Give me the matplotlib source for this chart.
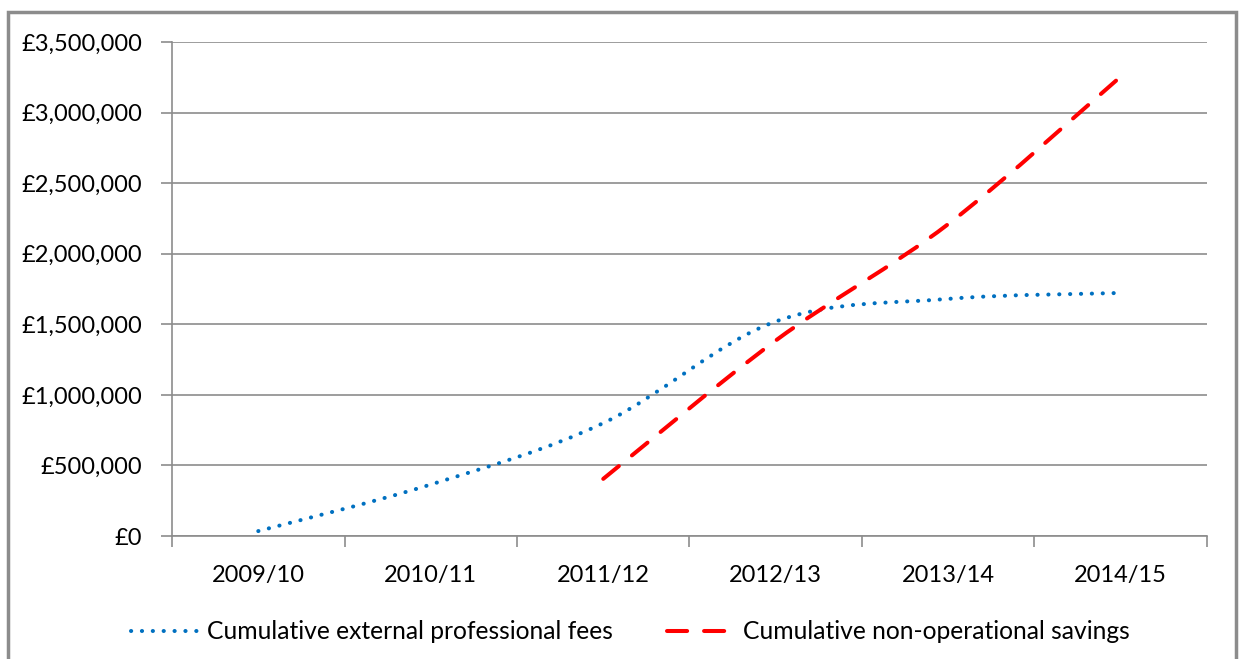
import numpy as np
import matplotlib.pyplot as plt
from matplotlib.path import Path
from matplotlib.patches import PathPatch, Rectangle
from matplotlib.lines import Line2D
from matplotlib.ticker import FuncFormatter

plt.rcParams['font.family'] = ['Lato', 'DejaVu Sans']

years = ["2009/10", "2010/11", "2011/12", "2012/13", "2013/14", "2014/15"]
fees = [35000, 365000, 800000, 1520000, 1680000, 1722000]
savings = [None, None, 405000, 1385000, 2210000, 3255000]

blue = "#0070C0"
red = "#FF0000"


def smooth_path(xs, ys):
    # excel style smoothed line as cubic bezier segments
    pts = np.array(list(zip(xs, ys)), dtype=float)
    n = len(pts)
    verts = [pts[0]]
    codes = [Path.MOVETO]
    for i in range(n - 1):
        p0 = pts[i - 1] if i > 0 else pts[i]
        p1 = pts[i]
        p2 = pts[i + 1]
        p3 = pts[i + 2] if i + 2 < n else pts[i + 1]
        c1 = p1 + (p2 - p0) / 6
        c2 = p2 - (p3 - p1) / 6
        verts += [c1, c2, p2]
        codes += [Path.CURVE4] * 3
    return Path(verts, codes)


fig = plt.figure(figsize=(12.43, 6.59), dpi=100)
ax = fig.add_axes([0.1384, 0.1866, 0.971 - 0.1384, 0.9363 - 0.1866])

x = np.arange(len(years))
blue_ls = (0, (0.05, 2.65))
red_ls = (0, (5, 4.2))

ax.add_patch(PathPatch(smooth_path(x, fees), fill=False, edgecolor=blue,
                       lw=2.9, ls=blue_ls, capstyle="round", zorder=3))
sx = [x[i] for i in range(len(years)) if savings[i] is not None]
sy = [v for v in savings if v is not None]
ax.add_patch(PathPatch(smooth_path(sx, sy), fill=False, edgecolor=red,
                       lw=2.9, ls=red_ls, capstyle="round", zorder=4))

ax.set_xlim(-0.5, len(years) - 0.5)
ax.set_ylim(0, 3500000)
ax.set_yticks(np.arange(0, 3500001, 500000))
ax.yaxis.set_major_formatter(FuncFormatter(lambda v, p: "£{:,.0f}".format(v)))
ax.grid(axis="y", color="#8c8c8c", lw=1.2)
ax.set_axisbelow(True)

ax.set_xticks(np.arange(-0.5, len(years), 1))
ax.set_xticklabels([])
ax.set_xticks(x, minor=True)
ax.set_xticklabels(years, minor=True)
ax.tick_params(axis="x", which="major", length=8, color="#8c8c8c", width=1.2)
ax.tick_params(axis="x", which="minor", length=0, pad=21, labelsize=17)
ax.tick_params(axis="y", length=8, color="#8c8c8c", width=1.2, pad=13.5, labelsize=17)

for s in ["top", "right"]:
    ax.spines[s].set_visible(False)
ax.spines["left"].set_color("#8c8c8c")
ax.spines["bottom"].set_color("#8c8c8c")
ax.spines["left"].set_linewidth(1.2)
ax.spines["bottom"].set_linewidth(1.2)

handles = [Line2D([], [], color=blue, lw=2.9, ls=blue_ls,
                  dash_capstyle="round"),
           Line2D([], [], color=red, lw=2.9, ls=red_ls,
                  dash_capstyle="round")]
fig.legend(handles, ["Cumulative external professional fees",
                     "Cumulative non-operational savings"],
           loc="center", bbox_to_anchor=(0.507, 0.041), ncol=2, frameon=False,
           fontsize=17.7, handlelength=2.75, columnspacing=2.2, handletextpad=0.35)

fig.patches.append(Rectangle((8 / 1243, -0.05), 1228 / 1243, 1.05 - 12 / 659,
                             transform=fig.transFigure, fill=False,
                             edgecolor="#8c8c8c", lw=2.5))

fig.savefig("out.png", dpi=100)
